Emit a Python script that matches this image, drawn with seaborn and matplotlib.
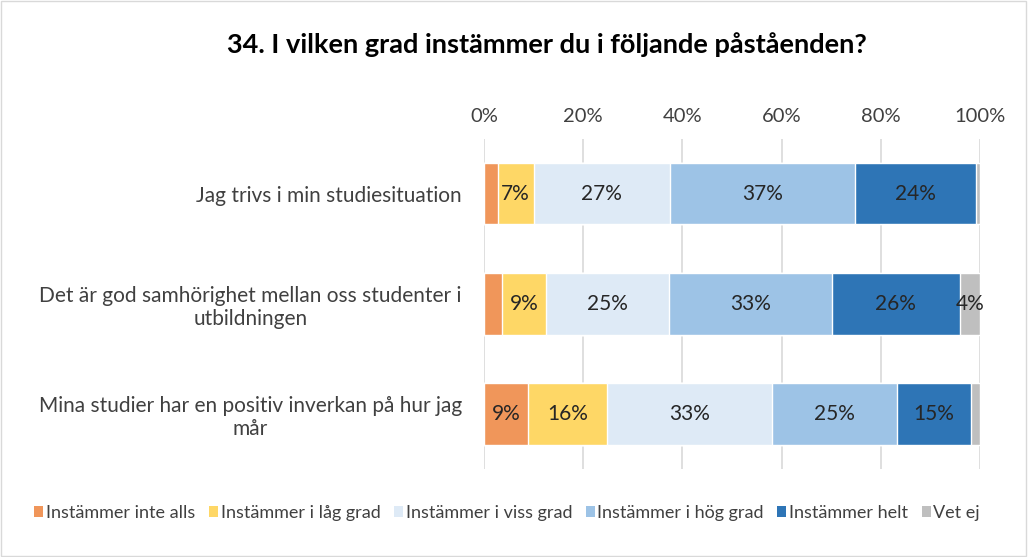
import matplotlib
matplotlib.use("Agg")
import matplotlib.pyplot as plt
import seaborn as sns
import numpy as np
import pandas as pd
from matplotlib.patches import Patch, Rectangle

title = "34. I vilken grad instämmer du i följande påståenden?"
categories = [
    "Jag trivs i min studiesituation",
    "Det är god samhörighet mellan oss studenter i\nutbildningen",
    "Mina studier har en positiv inverkan på hur jag\nmår",
]
series = ["Instämmer inte alls", "Instämmer i låg grad", "Instämmer i viss grad",
          "Instämmer i hög grad", "Instämmer helt", "Vet ej"]
inte_alls = [2.8, 3.6, 8.8]
lag_grad = [7.2, 8.9, 16.0]
viss_grad = [27.4, 24.8, 33.2]
hog_grad = [37.4, 32.9, 25.3]
helt = [24.4, 25.7, 14.9]
vet_ej = [0.8, 4.1, 1.8]
ticks = [0, 20, 40, 60, 80, 100]
tick_labels = ["0%", "20%", "40%", "60%", "80%", "100%"]

colors = ["#F0965A", "#FED766", "#DEEAF6", "#9DC3E6", "#2E75B6", "#BFBFBF"]

sns.set_theme(style="white")
plt.rcParams['font.family'] = ['Lato', 'DejaVu Sans']

values = np.array([inte_alls, lag_grad, viss_grad, hog_grad, helt, vet_ej])
cum = np.cumsum(values, axis=0)

fig = plt.figure(figsize=(10.28, 5.57), dpi=100)
ax = fig.add_axes([484/1028, 1-469/557, (980-484)/1028, (469-138.5)/557])

for i in range(len(series) - 1, -1, -1):
    df = pd.DataFrame({"cat": categories, "val": cum[i]})
    sns.barplot(data=df, y="cat", x="val", orient="h", color=colors[i],
                saturation=1, width=0.56, ax=ax, zorder=2)

# labels
for i in range(len(series)):
    for j in range(len(categories)):
        v = values[i, j]
        if v >= 4:
            xc = cum[i, j] - v / 2
            ax.text(xc, j, f"{v:.0f}%", ha="center", va="center",
                    fontsize=15, color="#262626", zorder=3)

ax.set_xlim(0, 100)
ax.set_ylim(2.5, -0.5)
ax.set_xticks(ticks)
ax.set_xticklabels(tick_labels, fontsize=14.5, color="#404040")
ax.xaxis.tick_top()
ax.tick_params(axis="x", length=0, pad=10)
ax.tick_params(axis="y", length=0, pad=16)
for lab in ax.get_yticklabels():
    lab.set_fontsize(15)
    lab.set_color("#404040")
    lab.set_multialignment("center")
ax.set_xlabel("")
ax.set_ylabel("")
for s in ax.spines.values():
    s.set_visible(False)
ax.grid(axis="x", color="#D9D9D9", linewidth=1.2, zorder=0)
ax.set_axisbelow(True)

fig.text(547/1028, 1-45/557, title, ha="center", va="center",
         fontsize=19.5, fontweight="bold", color="#000000")

handles = [Patch(facecolor=c, edgecolor="none") for c in colors]
fig.legend(handles, series, loc="center left", bbox_to_anchor=(18/1028, 1-513/557),
           ncol=6, frameon=False, handlelength=0.5, handleheight=0.5,
           handletextpad=0.15, columnspacing=0.75, labelcolor="#404040",
           prop={"size": 13})

fig.add_artist(Rectangle((0.001, 0.002), 0.997, 0.996, transform=fig.transFigure,
                         fill=False, edgecolor="#D9D9D9", linewidth=1))

fig.savefig("out.png", dpi=100)
